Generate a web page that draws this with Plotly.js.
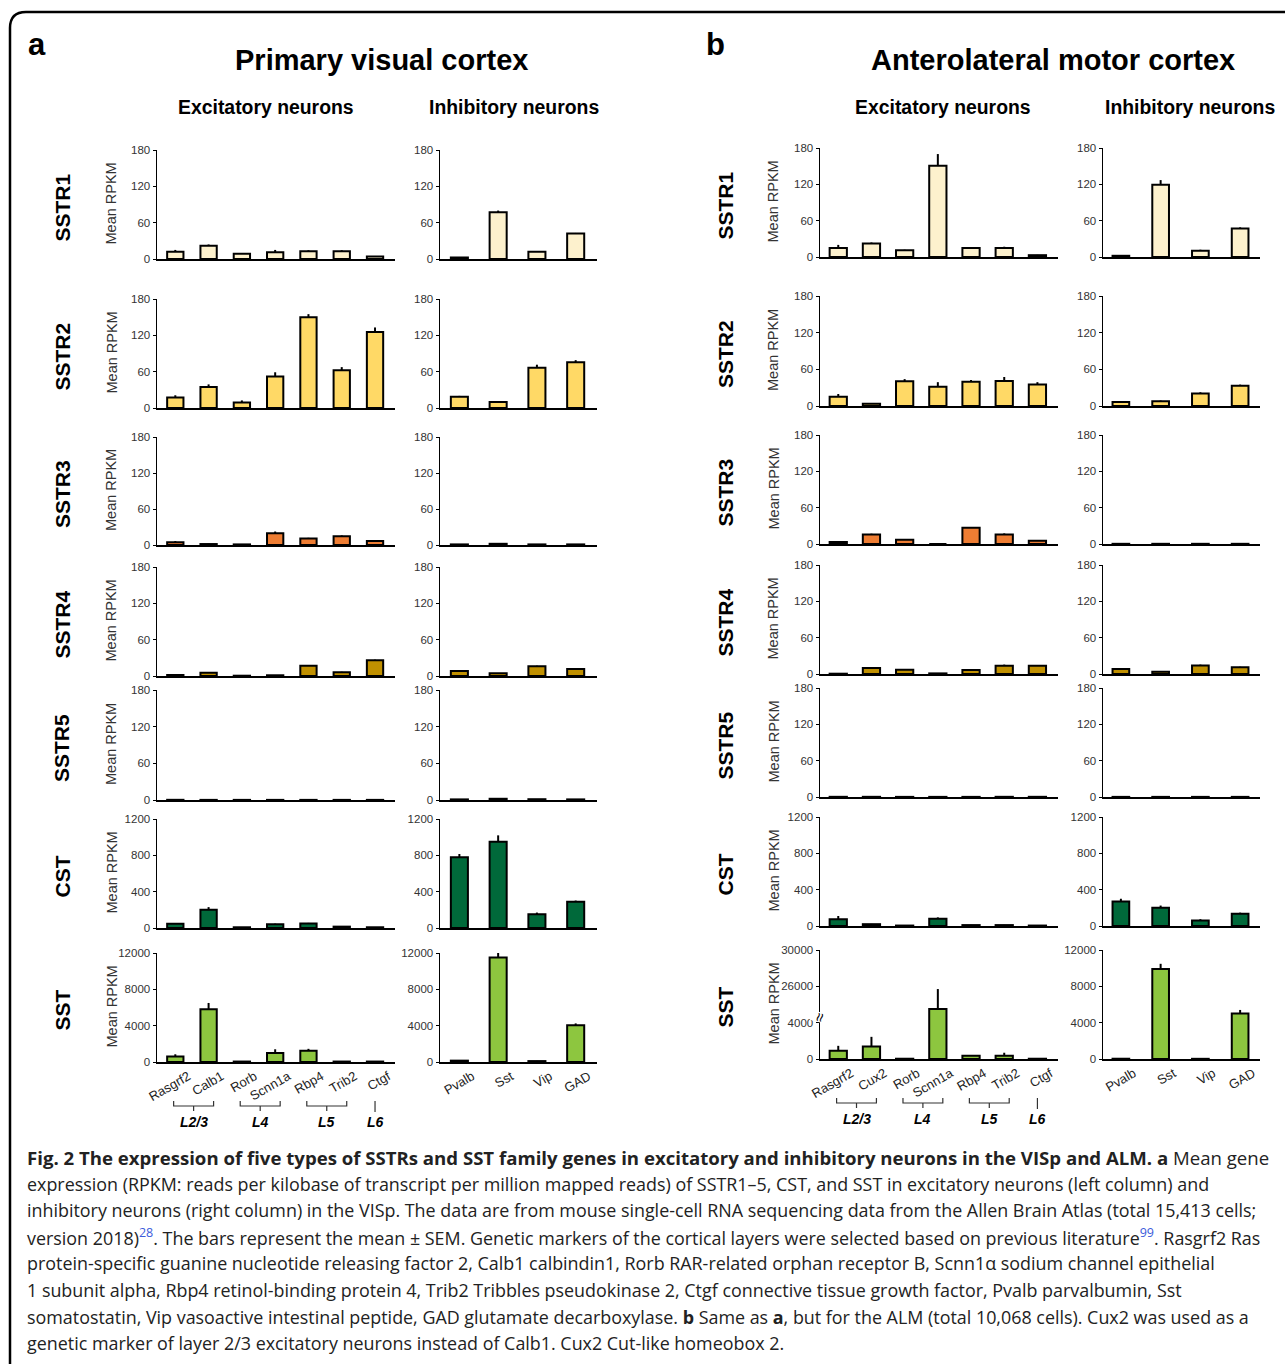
<!DOCTYPE html>
<html>
<head>
<meta charset="utf-8">
<script src="https://cdn.plot.ly/plotly-3.0.1.min.js"></script>
<style>html,body{margin:0;padding:0;background:#fff;}#chart{width:1285px;height:1364px;}</style>
</head>
<body>
<div id="chart"></div>
<script>
// ---------------- DATA ----------------
const rowGenes = ['SSTR1','SSTR2','SSTR3','SSTR4','SSTR5','CST','SST'];
const excGenesVISp = ['Rasgrf2','Calb1','Rorb','Scnn1a','Rbp4','Trib2','Ctgf'];
const excGenesALM  = ['Rasgrf2','Cux2','Rorb','Scnn1a','Rbp4','Trib2','Ctgf'];
const inhGenes = ['Pvalb','Sst','Vip','GAD'];
const layerLabels = ['L2/3','L4','L5','L6'];

// VISp excitatory: mean and SEM, one row per gene in rowGenes
const vispExcMean = [
  [12, 22, 8.5, 11, 13, 13, 4],
  [17.5, 34.5, 9, 52, 150, 62.5, 125.5],
  [4.5, 1.6, 1, 19.5, 11, 14.5, 6.5],
  [1.7, 5.5, 0.5, 1.2, 17, 6, 26],
  [0.3, 0.2, 0.2, 0.2, 0.2, 0.2, 0.2],
  [48, 200, 8, 42, 50, 15, 8],
  [600, 5800, 50, 1000, 1250, 50, 50]
];
const vispExcSem = [
  [3, 2, 1, 4, 1.5, 1.5, 1],
  [3.5, 4.5, 3.5, 7, 5, 5, 7.5],
  [2, 0.5, 0.5, 3, 1, 1.5, 1.5],
  [0.5, 1, 0.2, 0.3, 1, 1, 1],
  [0.1, 0.1, 0.1, 0.1, 0.1, 0.1, 0.1],
  [6, 30, 2, 6, 6, 3, 2],
  [250, 700, 20, 400, 200, 20, 20]
];
// VISp inhibitory
const vispInhMean = [
  [2.5, 77, 12, 42],
  [18.5, 10, 66.5, 75.5],
  [1, 2, 1, 1],
  [8.3, 4.4, 16, 11.5],
  [1, 2, 1.3, 1],
  [780, 950, 150, 290],
  [150, 11500, 100, 4050]
];
const vispInhSem = [
  [0.5, 3, 1, 1],
  [1.5, 1, 5, 3.5],
  [0.2, 0.3, 0.2, 0.2],
  [0.7, 0.6, 1, 1],
  [0.2, 0.3, 0.2, 0.2],
  [35, 70, 20, 12],
  [30, 500, 20, 200]
];
// ALM excitatory (SST row in real units; axis is broken above 4000)
const almExcMean = [
  [15, 22.5, 11, 150.5, 15, 15, 3],
  [15.3, 3.8, 40.4, 31.6, 39.8, 41, 35],
  [3.3, 15.8, 7, 0, 26.7, 15.8, 5.5],
  [0.5, 10, 7, 1, 6.6, 13.8, 13.8],
  [0.3, 0.3, 0.2, 0.2, 0.2, 0.3, 0.3],
  [75, 20, 5, 80, 10, 10, 5],
  [910, 1380, 30, 23500, 360, 360, 30]
];
const almExcSem = [
  [5, 1.5, 1, 19.5, 1, 2, 0.5],
  [4.3, 0.5, 3.6, 7.4, 2.7, 6.5, 4],
  [1.2, 1.2, 0.5, 0, 0.3, 1.7, 0.5],
  [0.2, 1.5, 0.5, 0.2, 0.4, 1.7, 0.2],
  [0.1, 0.1, 0.1, 0.1, 0.1, 0.1, 0.1],
  [35, 3, 1, 15, 2, 2, 1],
  [540, 1060, 10, 2200, 80, 330, 10]
];
// ALM inhibitory
const almInhMean = [
  [2, 119.5, 10.5, 47],
  [6.7, 7.8, 20.5, 33.3],
  [0.3, 0.3, 0.3, 0.3],
  [8.3, 3.9, 13.9, 11],
  [0.2, 0.2, 0.2, 0.2],
  [270, 200, 60, 135],
  [30, 9900, 20, 5000]
];
const almInhSem = [
  [0.5, 7.5, 1.5, 2],
  [0.8, 1.2, 2, 1.7],
  [0, 0, 0, 0],
  [0.7, 0.6, 1.6, 1],
  [0, 0, 0, 0],
  [30, 25, 15, 12],
  [10, 580, 5, 400]
];
const yTickVals = [[0,60,120,180],[0,60,120,180],[0,60,120,180],[0,60,120,180],[0,60,120,180],[0,400,800,1200],[0,4000,8000,12000]];
const brokenTickText = ['0','4000','26000','30000'];

// ---------------- STYLE / LAYOUT ----------------
const W = 1285, H = 1364;
const px = x => x / W, py = y => 1 - y / H;
const barColors = ['#FDF1CD','#FFD966','#EE7D33','#C09000','#9DC3E6','#00693A','#8DC63F'];
const rowsLeft  = [[150,259],[299,408],[437,545],[567,676],[690,800],[819,928],[953,1062]];
const rowsRight = [[148,257],[296,406],[435,544],[565,674],[688,797],[817,926],[950,1059]];
const colX = [[157,395],[440,597],[820,1058],[1103,1260]];
const colRange = [[-0.55,6.6],[-0.5,3.55],[-0.55,6.62],[-0.45,3.5]];
const colBarW = [0.49,0.44,0.52,0.42];
const BREAK_LO = 4000, BREAK_GAP = 18000;
const brk = v => v <= BREAK_LO ? v : v - BREAK_GAP;

const panels = [
  {mean: vispExcMean, sem: vispExcSem, genes: excGenesVISp, col: 0, rows: rowsLeft},
  {mean: vispInhMean, sem: vispInhSem, genes: inhGenes, col: 1, rows: rowsLeft},
  {mean: almExcMean, sem: almExcSem, genes: excGenesALM, col: 2, rows: rowsRight},
  {mean: almInhMean, sem: almInhSem, genes: inhGenes, col: 3, rows: rowsRight}
];

const data = [];
const layout = {
  width: W, height: H, margin: {l:0, r:0, t:0, b:0},
  paper_bgcolor: '#fff', plot_bgcolor: 'rgba(0,0,0,0)',
  showlegend: false, bargap: 0,
  font: {family: 'Liberation Sans, Arial, sans-serif', color: '#222'},
  annotations: [], shapes: []
};
const tickFont = {family: 'Liberation Sans, Arial, sans-serif', size: 11.5, color: '#333'};

let idx = 0;
panels.forEach((p, pi) => {
  rowGenes.forEach((g, r) => {
    idx++;
    const sx = idx === 1 ? '' : String(idx);
    const broken = (pi === 2 && r === 6);
    const means = p.mean[r], sems = p.sem[r];
    const yv = broken ? means.map(brk) : means;
    const ev = broken ? means.map((m, i) => brk(m + sems[i]) - brk(m)) : sems;
    data.push({
      type: 'bar', x: p.genes, y: yv, xaxis: 'x' + sx, yaxis: 'y' + sx,
      width: colBarW[p.col],
      marker: {color: barColors[r], line: {color: '#000', width: 2}},
      error_y: {type: 'data', symmetric: false, array: ev, arrayminus: yv.map(() => 0),
                width: 0, thickness: 2, color: '#000'},
      hoverinfo: 'x+y'
    });
    const rr = p.rows[r];
    const last = r === 6;
    layout['xaxis' + sx] = {
      domain: [px(colX[p.col][0]), px(colX[p.col][1])], anchor: 'y' + sx,
      type: 'category', range: colRange[p.col], fixedrange: true,
      showline: true, linecolor: '#000', linewidth: 2, showgrid: false, zeroline: false,
      ticks: '', showticklabels: last, tickangle: -30, ticklabelshift: 13,
      tickfont: {family: 'Liberation Sans, Arial, sans-serif', size: 13, color: '#222'}
    };
    const yr = yTickVals[r];
    layout['yaxis' + sx] = {
      domain: [py(rr[1]), py(rr[0])], anchor: 'x' + sx,
      range: [0, yr[yr.length - 1]], fixedrange: true,
      tickvals: yr, ticktext: broken ? brokenTickText : yr.map(String),
      showline: true, linecolor: '#000', linewidth: 1.5, showgrid: false, zeroline: false,
      ticks: 'outside', ticklen: 3, tickcolor: '#000', tickwidth: 1,
      tickfont: tickFont
    };
    if (broken) {
      layout.annotations.push({xref: 'x' + sx + ' domain', yref: 'y' + sx, x: 0, y: 4650,
        text: '≈', showarrow: false, font: {size: 16, color: '#000'}, bgcolor: '#fff',
        xanchor: 'center', yanchor: 'middle', textangle: -75, borderpad: 0});
    }
    // Layer brackets under the excitatory SST panels
    if (last && (p.col === 0 || p.col === 2)) {
      const yb = p.col === 0 ? 1106 : 1103;
      const ref = 'x' + sx;
      [[0,1],[2,3],[4,5]].forEach((pair, li) => {
        const a = pair[0] - 0.05, b = pair[1] + 0.15, m = (a + b) / 2;
        const s = {type: 'path', xref: ref, yref: 'paper',
          path: `M ${a},${py(yb-5)} L ${a},${py(yb)} L ${b},${py(yb)} L ${b},${py(yb-5)} M ${m},${py(yb)} L ${m},${py(yb+5)}`,
          line: {color: '#333', width: 1.2}};
        layout.shapes.push(s);
        layout.annotations.push({xref: ref, yref: 'paper', x: m, y: py(yb + 16), text: '<b><i>' + layerLabels[li] + '</i></b>',
          showarrow: false, font: {size: 14, color: '#000'}, xanchor: 'center', yanchor: 'middle'});
      });
      layout.shapes.push({type: 'line', xref: ref, yref: 'paper', x0: 6, x1: 6, y0: py(yb - 5), y1: py(yb + 6),
        line: {color: '#333', width: 1.2}});
      layout.annotations.push({xref: ref, yref: 'paper', x: 6, y: py(yb + 16), text: '<b><i>' + layerLabels[3] + '</i></b>',
        showarrow: false, font: {size: 14, color: '#000'}, xanchor: 'center', yanchor: 'middle'});
    }
    // Row labels and y titles
    if (p.col === 0 || p.col === 2) {
      const cy = (rr[0] + rr[1]) / 2;
      layout.annotations.push({xref: 'paper', yref: 'paper', x: px(p.col === 0 ? 62 : 725), y: py(cy + 3),
        text: '<b>' + g + '</b>', textangle: -90, showarrow: false,
        font: {size: 21, color: '#000', family: 'Liberation Sans, Arial, sans-serif'}, xanchor: 'center', yanchor: 'middle'});
      layout.annotations.push({xref: 'paper', yref: 'paper', x: px(p.col === 0 ? 111 : 773), y: py(cy - 1),
        text: 'Mean RPKM', textangle: -90, showarrow: false,
        font: {size: 14.5, color: '#333', family: 'Liberation Sans, Arial, sans-serif'}, xanchor: 'center', yanchor: 'middle'});
    }
  });
});

// Titles
const ann = (x, y, text, size, extra) => layout.annotations.push(Object.assign({xref: 'paper', yref: 'paper',
  x: px(x), y: py(y), text: text, showarrow: false, xanchor: 'center', yanchor: 'middle',
  font: {size: size, color: '#000', family: 'Liberation Sans, Arial, sans-serif'}}, extra || {}));
ann(37, 45, '<b>a</b>', 31);
ann(715, 45, '<b>b</b>', 31);
ann(381, 60, '<b>Primary visual cortex</b>', 29);
ann(1053, 60, '<b>Anterolateral motor cortex</b>', 29);
ann(266, 107, '<b>Excitatory neurons</b>', 19.4);
ann(514, 107, '<b>Inhibitory neurons</b>', 19.4);
ann(943, 107, '<b>Excitatory neurons</b>', 19.4);
ann(1190, 107, '<b>Inhibitory neurons</b>', 19.4);

// Caption
const sup = t => '<sup><span style="color:#3b5bdb">' + t + '</span></sup>';
const captionLines = [
  '<b>Fig. 2 The expression of five types of SSTRs and SST family genes in excitatory and inhibitory neurons in the VISp and ALM. a</b> Mean gene',
  'expression (RPKM: reads per kilobase of transcript per million mapped reads) of SSTR1–5, CST, and SST in excitatory neurons (left column) and',
  'inhibitory neurons (right column) in the VISp. The data are from mouse single-cell RNA sequencing data from the Allen Brain Atlas (total 15,413 cells;',
  'version 2018)' + sup('28') + '. The bars represent the mean ± SEM. Genetic markers of the cortical layers were selected based on previous literature' + sup('99') + '. Rasgrf2 Ras',
  'protein-specific guanine nucleotide releasing factor 2, Calb1 calbindin1, Rorb RAR-related orphan receptor B, Scnn1α sodium channel epithelial',
  '1 subunit alpha, Rbp4 retinol-binding protein 4, Trib2 Tribbles pseudokinase 2, Ctgf connective tissue growth factor, Pvalb parvalbumin, Sst',
  'somatostatin, Vip vasoactive intestinal peptide, GAD glutamate decarboxylase. <b>b</b> Same as <b>a</b>, but for the ALM (total 10,068 cells). Cux2 was used as a',
  'genetic marker of layer 2/3 excitatory neurons instead of Calb1. Cux2 Cut-like homeobox 2.'
];
captionLines.forEach((t, i) => {
  layout.annotations.push({xref: 'paper', yref: 'paper', x: px(25), y: py(1157 + i * 26.6), text: t,
    showarrow: false, xanchor: 'left', yanchor: 'middle', align: 'left',
    font: {size: i === 0 ? 18.6 : 17.9, color: '#222', family: 'Open Sans, Noto Sans, sans-serif'}});
});

// Frame (rounded top-left corner, running off the right and bottom edges)
layout.shapes.push({type: 'path', xref: 'paper', yref: 'paper',
  path: `M ${px(10)},${py(1380)} L ${px(10)},${py(28)} Q ${px(10)},${py(12)} ${px(26)},${py(12)} L ${px(1300)},${py(12)}`,
  line: {color: '#000', width: 2.5}});

Plotly.newPlot('chart', data, layout, {displayModeBar: false, staticPlot: true});
</script>
</body>
</html>
